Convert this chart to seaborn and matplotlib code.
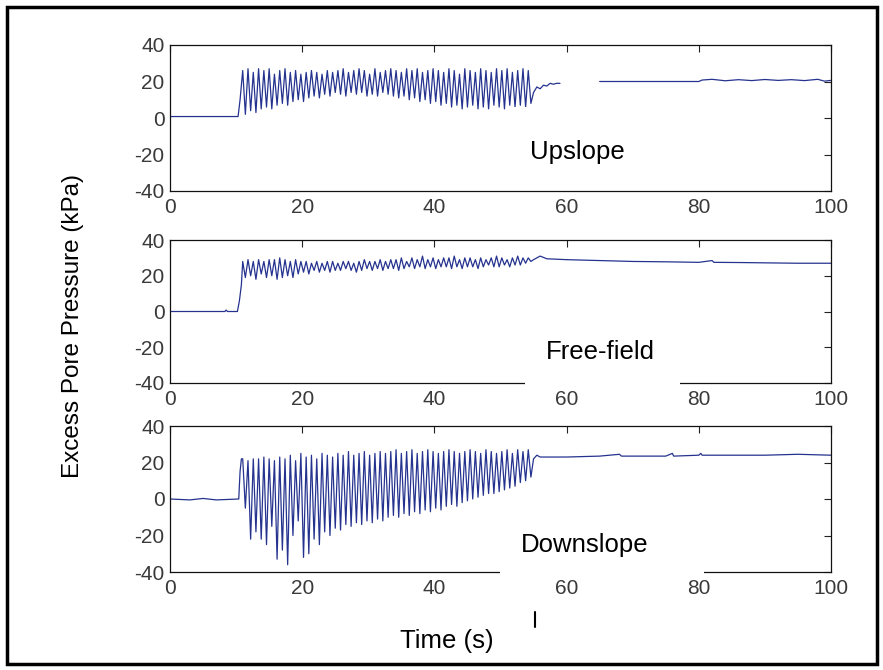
import numpy as np
import pandas as pd
import matplotlib
matplotlib.use("Agg")
import matplotlib.pyplot as plt
import seaborn as sns
from matplotlib.patches import Rectangle
from matplotlib.lines import Line2D

sns.set_theme(style="white")
plt.rcParams['font.family'] = ['Liberation Sans', 'DejaVu Sans']

# ---------------- data ----------------
panel_names = ["Upslope", "Free-field", "Downslope"]
x_ticks = [0, 20, 40, 60, 80, 100]
y_ticks = [-40, -20, 0, 20, 40]
x_label = "Time (s)"
y_label = "Excess Pore Pressure (kPa)"

# times of cycle peaks and troughs during shaking (s)
peak_t = [11.0, 11.8, 12.6, 13.4, 14.2, 15.0, 15.8, 16.6, 17.4, 18.2,
          19.0, 19.8, 20.6, 21.4, 22.2, 23.0, 23.8, 24.6, 25.4, 26.2,
          27.0, 27.8, 28.6, 29.4, 30.2, 31.0, 31.8, 32.6, 33.4, 34.2,
          35.0, 35.8, 36.6, 37.4, 38.2, 39.0, 39.8, 40.6, 41.4, 42.2,
          43.0, 43.8, 44.6, 45.4, 46.2, 47.0, 47.8, 48.6, 49.4, 50.2,
          51.0, 51.8, 52.6, 53.4, 54.2]
trough_t = [11.4, 12.2, 13.0, 13.8, 14.6, 15.4, 16.2, 17.0, 17.8, 18.6,
            19.4, 20.2, 21.0, 21.8, 22.6, 23.4, 24.2, 25.0, 25.8, 26.6,
            27.4, 28.2, 29.0, 29.8, 30.6, 31.4, 32.2, 33.0, 33.8, 34.6,
            35.4, 36.2, 37.0, 37.8, 38.6, 39.4, 40.2, 41.0, 41.8, 42.6,
            43.4, 44.2, 45.0, 45.8, 46.6, 47.4, 48.2, 49.0, 49.8, 50.6,
            51.4, 52.2, 53.0, 53.8, 54.6]

# Upslope
up_pre_t = [0, 10.3, 10.6]
up_pre_v = [0.8, 0.8, 10]
up_peaks = [26, 27, 25, 27, 26, 27, 24, 26, 27, 25,
            26, 24, 25, 26, 25, 24, 26, 25, 26, 27,
            25, 26, 27, 26, 24, 27, 25, 26, 27, 26,
            25, 27, 26, 27, 25, 26, 27, 26, 25, 27,
            26, 24, 27, 26, 25, 27, 26, 25, 27, 26,
            27, 25, 26, 27, 26]
up_troughs = [2, 4, 3, 5, 6, 5, 7, 8, 7, 9,
              10, 9, 11, 12, 11, 13, 12, 14, 13, 12,
              14, 13, 14, 12, 13, 12, 14, 13, 12, 11,
              12, 10, 11, 9, 10, 8, 9, 7, 8, 6,
              7, 5, 6, 7, 5, 6, 5, 7, 6, 5,
              7, 6, 7, 6, 8]
up_post_t = [55.0, 55.5, 56.0, 56.5, 57.0, 57.5, 58.0, 58.5, 59.0]
up_post_v = [14, 17, 16, 18, 17.5, 19, 18.5, 19, 19]
up_late_t = [65, 70, 75, 80, 80.5, 82, 84, 86, 88, 90, 92, 94, 96, 98, 99, 100]
up_late_v = [20, 20, 20, 20, 20.8, 21.2, 20.4, 21.0, 20.5, 21.1, 20.6, 21.0, 20.5, 21.2, 20.2, 20.6]

# Free-field
ff_pre_t = [0, 8.3, 8.5, 8.7, 10.2, 10.5, 10.8]
ff_pre_v = [0, 0, 0.8, 0, 0, 6, 15]
ff_peaks = [28, 29, 28, 29, 28, 29, 29, 30, 29, 28,
            29, 28, 28, 27, 28, 27, 28, 28, 27, 28,
            28, 27, 28, 29, 28, 28, 29, 28, 29, 29,
            30, 28, 30, 29, 31, 29, 30, 29, 30, 30,
            31, 29, 30, 30, 29, 30, 29, 30, 31, 30,
            29, 30, 31, 30, 30]
ff_troughs = [19, 20, 18, 21, 19, 20, 18, 19, 20, 19,
              21, 22, 21, 23, 22, 23, 22, 23, 23, 24,
              23, 22, 23, 24, 23, 24, 23, 24, 24, 23,
              24, 25, 24, 25, 24, 25, 24, 25, 25, 24,
              25, 24, 25, 25, 24, 25, 26, 25, 25, 26,
              25, 26, 26, 27, 28]
ff_post_t = [55, 56, 57, 60, 65, 70, 75, 80, 82, 82.3, 86, 90, 95, 100]
ff_post_v = [29, 31, 29.5, 29, 28.5, 28, 27.8, 27.5, 28.5, 27.5, 27.4, 27.2, 27, 27]

# Downslope
ds_pre_t = [0, 3, 5, 7, 10.4, 10.6, 10.8]
ds_pre_v = [0, -0.5, 0.3, -0.5, 0, 15, 22]
ds_peaks = [22, 21, 22, 22, 23, 22, 21, 23, 22, 24,
            21, 25, 23, 24, 22, 25, 24, 23, 25, 24,
            26, 24, 25, 26, 24, 25, 26, 25, 26, 27,
            25, 26, 27, 25, 26, 27, 26, 25, 26, 27,
            26, 25, 26, 27, 26, 25, 27, 26, 25, 26,
            27, 25, 27, 26, 27]
ds_troughs = [-5, -22, -18, -22, -25, -15, -33, -28, -36, -20,
              -12, -32, -30, -22, -25, -18, -20, -16, -17, -14,
              -15, -13, -14, -12, -13, -11, -12, -10, -9, -10,
              -8, -9, -7, -8, -6, -7, -5, -6, -4, -3,
              -4, -2, -1, 0, 1, 2, 3, 3, 4, 5,
              6, 7, 9, 10, 12]
ds_post_t = [55, 55.5, 56, 60, 65, 68, 68.3, 75, 76, 76.2, 80, 80.3, 80.5, 90, 95, 100]
ds_post_v = [22, 24, 23, 23, 23.5, 24.5, 23.5, 23.5, 25, 23.5, 24, 25, 24, 24, 24.5, 24]


def shake_series(peaks, troughs):
    t, v = [], []
    for pt, pv, tt, tv in zip(peak_t, peaks, trough_t, troughs):
        t += [pt, tt]
        v += [pv, tv]
    return t, v


def build(pre_t, pre_v, peaks, troughs, post_t, post_v):
    st, sv = shake_series(peaks, troughs)
    return pd.DataFrame({"t": pre_t + st + post_t, "p": pre_v + sv + post_v})


segments = [
    [build(up_pre_t, up_pre_v, up_peaks, up_troughs, up_post_t, up_post_v),
     pd.DataFrame({"t": up_late_t, "p": up_late_v})],
    [build(ff_pre_t, ff_pre_v, ff_peaks, ff_troughs, ff_post_t, ff_post_v)],
    [build(ds_pre_t, ds_pre_v, ds_peaks, ds_troughs, ds_post_t, ds_post_v)],
]

# ---------------- figure ----------------
W, H = 883, 670
fig = plt.figure(figsize=(W / 100, H / 100), dpi=100)
fig.patch.set_facecolor("white")

def fx(x):
    return x / W

def fy(y):
    return 1 - y / H

axes_px = [(45, 191), (240, 383), (426, 572)]
left_px, right_px = 170, 831
line_color = "#25338f"

for i, (top, bot) in enumerate(axes_px):
    ax = fig.add_axes([fx(left_px), fy(bot), (right_px - left_px) / W, (bot - top) / H])
    for df in segments[i]:
        sns.lineplot(data=df, x="t", y="p", ax=ax, color=line_color, linewidth=0.9,
                     estimator=None, sort=False)
    ax.set_xlim(0, 100)
    ax.set_ylim(-40, 40)
    ax.set_xticks(x_ticks)
    ax.set_yticks(y_ticks)
    ax.set_xticklabels([str(v) for v in x_ticks])
    ax.set_yticklabels([str(v) for v in y_ticks])
    ax.set_xlabel("")
    ax.set_ylabel("")
    ax.tick_params(direction="in", length=5, width=0.8, top=True, right=True,
                   labelsize=15, labelcolor="#3a3a3a", color="#222222")
    ax.tick_params(axis="x", pad=5)
    ax.tick_params(axis="y", pad=4)
    for s in ax.spines.values():
        s.set_color("#111111")
        s.set_linewidth(0.9)
    ax.grid(False)

# white label boxes (scan artefacts covering the plots)
boxes = [(506, 107, 700, 187), (525, 305, 680, 391), (500, 518, 704, 579)]
for (x0, y0, x1, y1) in boxes:
    fig.add_artist(Rectangle((fx(x0), fy(y1)), fx(x1) - fx(x0), (y1 - y0) / H,
                             transform=fig.transFigure, facecolor="white",
                             edgecolor="none", zorder=10))

label_pos = [(577, 152), (600, 352), (585, 545)]
for name, (x, y) in zip(panel_names, label_pos):
    fig.text(fx(x), fy(y), name, ha="center", va="center", fontsize=18.5,
             color="black", zorder=11)

fig.text(fx(447), fy(641), x_label, ha="center", va="center", fontsize=18.5, color="black")
fig.text(fx(73), fy(326), y_label, ha="center", va="center", rotation=90,
         fontsize=17.5, color="black")

# small stray mark below the axes
fig.add_artist(Line2D([fx(535), fx(535)], [fy(612), fy(627)], transform=fig.transFigure,
                      color="black", linewidth=1.5, zorder=11))

# outer frame
fig.add_artist(Rectangle((fx(7), fy(664)), fx(877) - fx(7), (664 - 7) / H,
                         transform=fig.transFigure, facecolor="none",
                         edgecolor="black", linewidth=2.5, zorder=12))

fig.savefig("out.png", dpi=100, facecolor="white")
